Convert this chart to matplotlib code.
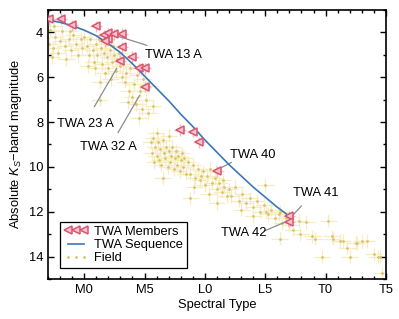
import matplotlib
matplotlib.use("Agg")
import matplotlib.pyplot as plt
from matplotlib.ticker import MultipleLocator, FixedLocator

plt.rcParams['font.family'] = ['Liberation Sans', 'DejaVu Sans']
plt.rcParams['mathtext.fontset'] = 'custom'
plt.rcParams['mathtext.rm'] = 'Liberation Sans'
plt.rcParams['mathtext.it'] = 'Liberation Sans:italic'

# ---- data ----
tick_pos = [0, 5, 10, 15, 20, 25]
tick_labels = ['M0', 'M5', 'L0', 'L5', 'T0', 'T5']

seq_x = [-3, -2, -1, 0, 1, 2, 3, 4, 5, 6, 7, 8, 9, 10, 11, 12, 13, 14, 15, 16, 17]
seq_y = [3.45, 3.55, 3.7, 3.9, 4.15, 4.5, 4.9, 5.4, 5.95, 6.5, 7.05, 7.65, 8.2, 8.8,
         9.35, 9.9, 10.4, 10.9, 11.35, 11.8, 12.2]

mem_x = [-2.9, -1.9, -1.0, 1.0, 1.6, 2.0, 2.0, 1.7, 2.5, 3.1, 3.1, 4.0, 3.0, 4.5, 5.0,
         5.0, 7.9, 9.0, 9.5, 11.0, 17.0, 17.0]
mem_y = [3.42, 3.38, 3.69, 3.73, 4.13, 4.04, 4.31, 4.4, 4.09, 4.05, 4.66, 5.1, 5.28,
         5.6, 5.6, 6.43, 8.35, 8.43, 8.9, 10.2, 12.2, 12.45]

field_x = [-2.9, -2.8, -2.6, -2.4, -2.2, -2.0, -1.8, -1.6, -1.5, -1.3, -1.1, -0.9, -0.7,
           -0.5, -0.3, -0.2, 0.0, -2.7, -2.5, -1.2,
           0.2, 0.4, 0.5, 0.7, 0.8, 1.0, 1.1, 1.2, 1.4, 1.5, 1.6, 1.8, 1.9, 2.0, 2.1,
           2.3, 2.4, 2.5, 2.6, 2.7, 2.9, 3.0, 3.1, 0.9, 1.7, 0.3, 2.2, 1.3,
           3.2, 3.4, 3.5, 3.7, 3.8, 4.0, 4.1, 4.3, 4.4, 4.6, 4.8, 4.9, 5.1, 5.3, 5.4,
           3.6, 4.5, 1.3, 5.7,
           5.5, 5.6, 5.7, 5.8, 5.9, 6.0, 6.1, 6.2, 6.3, 6.4, 6.5, 6.6, 6.7, 6.8, 6.9,
           7.0, 7.1, 7.2, 7.3, 7.4, 7.5, 7.6, 7.7, 7.8, 7.9, 8.0, 8.1, 8.2, 8.3, 8.4,
           6.5, 8.8, 6.0, 7.0,
           8.6, 8.8, 9.0, 9.2, 9.4, 9.6, 9.8, 10.0, 10.2, 10.4, 10.6, 10.8, 11.0,
           11.2, 11.4, 11.6, 11.8, 12.0, 9.1, 9.7, 10.3, 10.9, 11.5, 11.0,
           12.2, 12.5, 12.8, 13.1, 13.4, 13.7, 14.0, 14.3, 14.6, 14.9, 15.2, 15.5,
           15.8, 16.1, 16.4, 16.7, 13.0, 14.0, 15.0, 15.1, 16.2, 16.2,
           17.0, 17.3, 17.8, 17.9, 18.4, 18.9, 19.1, 19.7, 20.2, 20.5, 20.6, 21.2,
           21.4, 21.8, 22.0, 22.5, 22.6, 23.0, 23.4, 24.0, 24.3, 24.5, 24.7]
field_y = [4.5, 3.9, 4.7, 4.2, 4.9, 4.4, 3.95, 4.6, 5.2, 4.3, 4.8, 4.1, 4.5,
           5.0, 4.3, 4.7, 4.2, 5.1, 3.7, 3.95,
           4.6, 5.0, 4.3, 4.8, 5.3, 4.5, 5.0, 4.3, 4.7, 5.4, 4.9, 4.5, 5.1, 5.6, 4.8,
           5.3, 4.6, 5.0, 5.7, 5.2, 4.9, 5.5, 6.0, 5.6, 5.8, 5.5, 6.1, 6.2,
           5.4, 6.2, 5.8, 6.6, 5.6, 6.9, 6.3, 7.2, 5.9, 6.6, 7.4, 6.1, 7.0, 7.6, 6.4,
           7.1, 7.8, 7.0, 7.3,
           8.9, 9.4, 8.7, 9.8, 9.1, 9.5, 8.9, 9.7, 9.2, 9.9, 8.8, 9.4, 9.6, 9.1, 10.0,
           9.3, 9.8, 9.5, 9.1, 10.1, 9.6, 9.3, 9.9, 9.5, 10.2, 9.7, 9.4, 10.0, 9.6, 10.3,
           10.5, 11.4, 8.5, 8.6,
           9.8, 10.3, 9.9, 10.5, 10.1, 10.6, 10.2, 10.8, 10.4, 10.1, 10.7, 10.5, 11.0,
           10.7, 11.1, 10.9, 11.3, 11.0, 10.9, 10.4, 11.2, 10.2, 10.6, 11.6,
           11.3, 10.9, 11.5, 11.2, 11.6, 11.4, 11.8, 11.5, 12.0, 11.7, 12.1, 11.9,
           12.3, 12.1, 12.5, 12.3, 11.9, 12.2, 10.8, 12.0, 12.0, 13.2,
           12.6, 12.8, 12.4, 13.0, 12.45, 13.1, 13.2, 14.0, 12.4, 13.1, 13.2, 13.3,
           13.3, 13.6, 14.0, 13.4, 13.4, 13.3, 13.3, 13.9, 14.0, 14.0, 14.75]

FS = 9.3

# ---- figure ----
fig = plt.figure(figsize=(3.99, 3.19), dpi=100)
ax = fig.add_axes([0.1203, 0.1254, 0.8471, 0.8433])

ax.errorbar(field_x, field_y, xerr=0.7, yerr=0.3, fmt='none', ecolor='#f5ecc4',
            elinewidth=0.9, zorder=1)
ax.plot(field_x, field_y, '.', color='#dcc468', markersize=2.0, label='Field', zorder=2)

ax.errorbar(mem_x, mem_y, xerr=0.5, yerr=0.25, fmt='none', ecolor='#f3b5c1',
            elinewidth=1.0, zorder=3)
ax.plot(mem_x, mem_y, '<', markersize=6, markerfacecolor='#f5c3cd',
        markeredgecolor='#d9566f', markeredgewidth=1.1, linestyle='none',
        label='TWA Members', zorder=5)

ax.plot(seq_x, seq_y, '-', color='#3d78b6', lw=1.2, label='TWA Sequence', zorder=4)

ann = dict(arrowprops=dict(arrowstyle='-', color='#8c8c8c', lw=0.9,
                           shrinkA=0, shrinkB=0))
ax.annotate('', xy=(1.8, 4.0), xytext=(5.2, 4.58), **ann)
ax.text(5.05, 5.02, 'TWA 13 A', fontsize=FS, va='center', ha='left')
ax.annotate('', xy=(2.7, 5.6), xytext=(0.83, 7.32), **ann)
ax.text(-2.25, 8.1, 'TWA 23 A', fontsize=FS, va='center', ha='left')
ax.annotate('', xy=(4.6, 6.8), xytext=(2.8, 8.47), **ann)
ax.text(-0.35, 9.1, 'TWA 32 A', fontsize=FS, va='center', ha='left')
ax.annotate('', xy=(11.1, 10.1), xytext=(12.2, 9.8), **ann)
ax.text(12.1, 9.45, 'TWA 40', fontsize=FS, va='center', ha='left')
ax.annotate('', xy=(17.2, 12.2), xytext=(18.0, 11.74), **ann)
ax.text(17.3, 11.17, 'TWA 41', fontsize=FS, va='center', ha='left')
ax.annotate('', xy=(16.9, 12.4), xytext=(14.96, 12.85), **ann)
ax.text(11.3, 12.95, 'TWA 42', fontsize=FS, va='center', ha='left')

ax.set_xlim(-3, 25)
ax.set_ylim(15, 3)
ax.xaxis.set_major_locator(FixedLocator(tick_pos))
ax.set_xticklabels(tick_labels)
ax.xaxis.set_minor_locator(MultipleLocator(1))
ax.yaxis.set_major_locator(MultipleLocator(2))
ax.yaxis.set_minor_locator(MultipleLocator(1))
ax.tick_params(which='both', direction='in', top=True, right=True, labelsize=FS)
ax.tick_params(which='major', length=4, width=1)
ax.tick_params(which='minor', length=2.5, width=1)
for s in ax.spines.values():
    s.set_linewidth(1.2)

ax.set_xlabel('Spectral Type', fontsize=FS, labelpad=2)
ax.set_ylabel(r'Absolute $K_S$$-$band magnitude', fontsize=FS, labelpad=3)

h, l = ax.get_legend_handles_labels()
order = [l.index('TWA Members'), l.index('TWA Sequence'), l.index('Field')]
leg = ax.legend([h[i] for i in order], [l[i] for i in order], loc='lower left',
                bbox_to_anchor=(0.035, 0.04), borderaxespad=0, numpoints=3,
                fontsize=FS, fancybox=False, edgecolor='black', framealpha=1,
                handlelength=1.9, handletextpad=0.45, labelspacing=0.1,
                borderpad=0.3)
leg.get_frame().set_linewidth(0.9)

fig.savefig('out.png', dpi=100)
